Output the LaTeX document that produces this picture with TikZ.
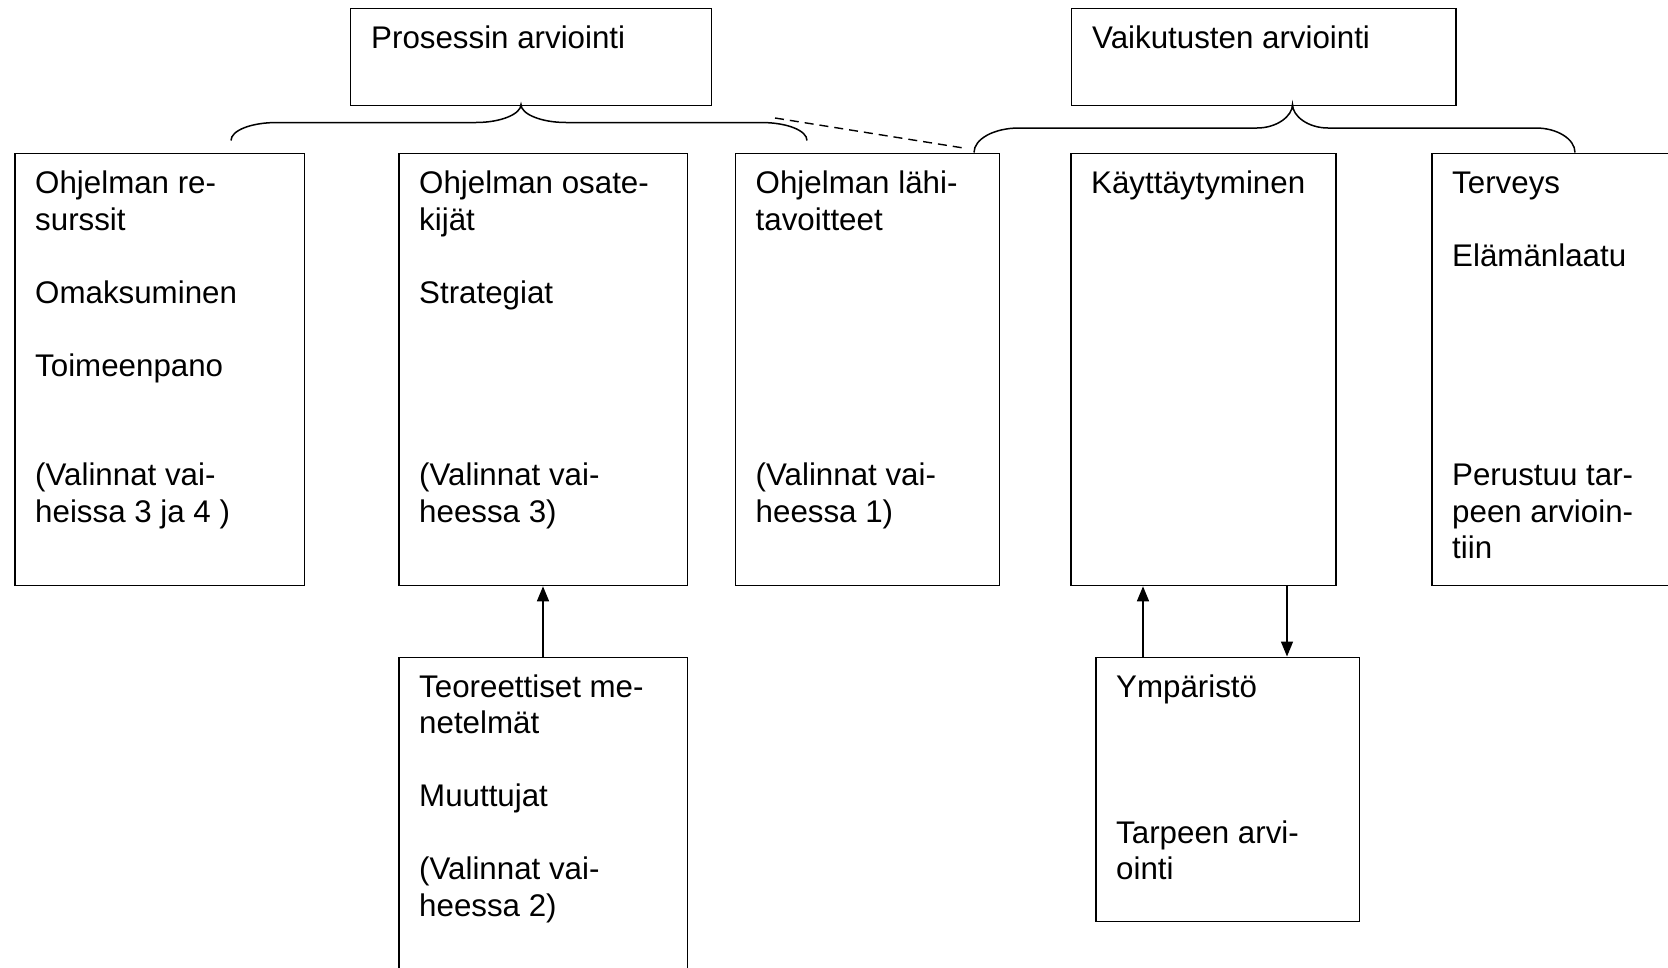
\documentclass[tikz,border=0pt]{standalone}
\usepackage{fontspec}
\setmainfont{Liberation Sans}
\usetikzlibrary{arrows.meta}
\newcommand{\boxtext}[1]{\parbox[t]{380pt}{\raggedright\fontsize{31.3}{36.5}\selectfont #1}}
\tikzset{
  box/.style={draw, line width=1.8pt, rectangle, inner sep=0pt, anchor=north west},
  txt/.style={anchor=base west, inner sep=0pt},
  conn/.style={line width=1.5pt},
  arr/.style={line width=1.5pt, -{Triangle[length=15pt,width=12pt]}},
}
\begin{document}
\begin{tikzpicture}[x=1pt,y=-1pt]
\useasboundingbox (0,0) rectangle (1668,967);
\fill[white] (0,0) rectangle (1668,967);
\clip (0,0) rectangle (1668,967);
% top boxes
\node[box, minimum width=361pt, minimum height=97pt] (p) at (349.5,7.5) {};
\node[txt] (pt) at (371,48.5) {\boxtext{Prosessin arviointi}};
\node[box, minimum width=384.5pt, minimum height=97pt] (v) at (1070.5,7.5) {};
\node[txt] (vt) at (1092,48.5) {\boxtext{Vaikutusten arviointi}};
% middle boxes
\node[box, minimum width=289.5pt, minimum height=432pt] (b1) at (14,152.5) {};
\node[txt] (b1t) at (35,193.5) {\boxtext{Ohjelman re-\\surssit\\[36.5pt]Omaksuminen\\[36.5pt]Toimeenpano\\[73pt](Valinnat vai-\\heissa 3 ja 4 )}};
\node[box, minimum width=288.5pt, minimum height=432pt] (b2) at (398,152.5) {};
\node[txt] (b2t) at (419,193.5) {\boxtext{Ohjelman osate-\\kijät\\[36.5pt]Strategiat\\[146pt](Valinnat vai-\\heessa 3)}};
\node[box, minimum width=264pt, minimum height=432pt] (b3) at (734.5,152.5) {};
\node[txt] (b3t) at (755.5,193.5) {\boxtext{Ohjelman lähi-\\tavoitteet\\[219pt](Valinnat vai-\\heessa 1)}};
\node[box, minimum width=265pt, minimum height=432pt] (b4) at (1070,152.5) {};
\node[txt] (b4t) at (1091,193.5) {\boxtext{Käyttäytyminen}};
\node[box, minimum width=300pt, minimum height=432pt] (b5) at (1431,152.5) {};
\node[txt] (b5t) at (1452,193.5) {\boxtext{Terveys\\[36.5pt]Elämänlaatu\\[182.5pt]Perustuu tar-\\peen arvioin-\\tiin}};
% bottom boxes
\node[box, minimum width=288.5pt, minimum height=360pt] (b6) at (398,656.5) {};
\node[txt] (b6t) at (419,697) {\boxtext{Teoreettiset me-\\netelmät\\[36.5pt]Muuttujat\\[36.5pt](Valinnat vai-\\heessa 2)}};
\node[box, minimum width=263.5pt, minimum height=264pt] (b7) at (1095,656.5) {};
\node[txt] (b7t) at (1116,697) {\boxtext{Ympäristö\\[109.5pt]Tarpeen arvi-\\ointi}};
% brace 1
\coordinate (l1) at (231,140.5);
\coordinate (c1) at (521,104.5);
\coordinate (r1) at (807,140.5);
\draw[conn] (l1) .. controls (231,130.5) and (251,122.5) .. (277,122.5) -- (476,122.5)
  .. controls (501,122.5) and (521,114) .. (c1)
  .. controls (521,114) and (541,122.5) .. (566,122.5) -- (761,122.5)
  .. controls (787,122.5) and (807,130.5) .. (r1);
% brace 2
\coordinate (l2) at (974,152.5);
\coordinate (c2) at (1292.5,104.5);
\coordinate (r2) at (1575,152.5);
\draw[conn] (l2) .. controls (974,139) and (994,128) .. (1019,128) -- (1257,128)
  .. controls (1277,128) and (1292.5,116) .. (c2)
  .. controls (1292.5,116) and (1308,128) .. (1328,128) -- (1536,128)
  .. controls (1557,128) and (1575,139) .. (r2);
% dashed link
\coordinate (d1) at (775,118);
\coordinate (d2) at (963.5,148);
\draw[conn, line width=1.4pt, dash pattern=on 9pt off 6pt] (d1) -- (d2);
% arrows
\draw[arr] ([xshift=145pt]b6.north west) -- ([xshift=145pt]b6.north west |- b2.south);
\draw[arr] ([xshift=48pt]b7.north west) -- ([xshift=48pt]b7.north west |- b4.south);
\draw[arr] ([xshift=217pt]b4.south west) -- ([xshift=217pt]b4.south west |- b7.north);
\end{tikzpicture}
\end{document}
